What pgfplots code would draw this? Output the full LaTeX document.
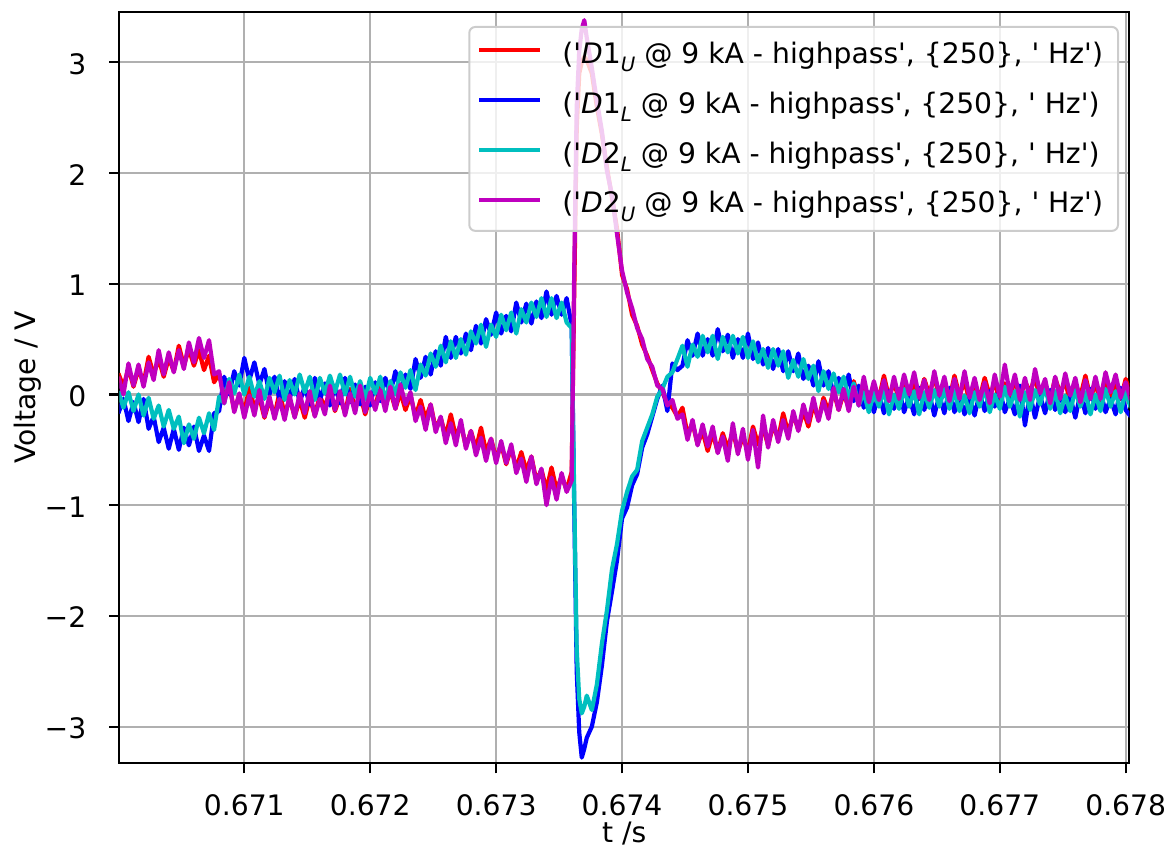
\documentclass[border=0pt]{standalone}
\usepackage{fontspec}
\setmainfont{DejaVu Sans}
\usepackage{pgfplots}
\usepackage{pgfplotstable}
\pgfplotsset{compat=1.18}

\definecolor{mplred}{HTML}{FF0000}
\definecolor{mplblue}{HTML}{0000FF}
\definecolor{mplcyan}{HTML}{00BFBF}
\definecolor{mplmagenta}{HTML}{BF00BF}
\definecolor{gridgray}{HTML}{B0B0B0}
\definecolor{framegray}{HTML}{CCCCCC}

\newcommand{\lbl}{\fontsize{14.1}{16.9}\selectfont}
% legend text of one detector channel: #1 = detector number, #2 = U/L
\newcommand{\sig}[2]{(\textquotesingle\textit{D}#1\raisebox{-0.3em}{\fontsize{9.9}{10}\selectfont\textit{#2}} @ 9 kA - highpass\textquotesingle, \{250\}, \textquotesingle\ Hz\textquotesingle)\hspace{3.5pt}}

% t in s; D1U, D1L, D2L, D2U in V (highpass 250 Hz)
\pgfplotstableread{
t r b c m
0.67000 0.19 -0.17 0.03 0.16
0.67004 0.07 -0.04 -0.12 0.00
0.67008 0.24 -0.24 0.02 0.28
0.67012 0.07 -0.07 -0.15 0.08
0.67016 0.23 -0.25 0.00 0.27
0.67020 0.10 -0.04 -0.19 0.07
0.67024 0.34 -0.31 -0.03 0.29
0.67028 0.18 -0.20 -0.22 0.13
0.67032 0.32 -0.43 -0.10 0.40
0.67036 0.16 -0.30 -0.29 0.18
0.67040 0.33 -0.49 -0.14 0.38
0.67044 0.21 -0.31 -0.31 0.20
0.67048 0.44 -0.50 -0.20 0.40
0.67052 0.26 -0.30 -0.44 0.23
0.67056 0.41 -0.46 -0.27 0.47
0.67060 0.26 -0.29 -0.40 0.29
0.67064 0.40 -0.51 -0.21 0.51
0.67068 0.22 -0.37 -0.35 0.33
0.67072 0.35 -0.51 -0.17 0.49
0.67076 0.11 -0.17 -0.32 0.18
0.67080 0.19 -0.15 -0.02 0.21
0.67084 -0.03 0.16 -0.08 -0.08
0.67088 0.08 0.00 0.14 0.11
0.67092 -0.14 0.21 0.01 -0.16
0.67096 -0.01 0.08 0.18 0.01
0.67100 -0.16 0.33 0.00 -0.21
0.67104 0.06 0.13 0.16 -0.01
0.67108 -0.12 0.29 -0.02 -0.19
0.67112 -0.03 0.09 0.12 0.04
0.67116 -0.21 0.23 -0.04 -0.20
0.67120 -0.05 0.00 0.15 -0.02
0.67124 -0.19 0.16 0.02 -0.22
0.67128 0.02 -0.05 0.17 -0.04
0.67132 -0.18 0.12 -0.05 -0.23
0.67136 -0.04 -0.04 0.13 -0.01
0.67140 -0.20 0.14 0.00 -0.21
0.67144 -0.05 -0.07 0.18 0.01
0.67148 -0.21 0.07 0.02 -0.17
0.67152 -0.03 -0.09 0.16 0.03
0.67156 -0.19 0.15 -0.05 -0.20
0.67160 -0.01 -0.05 0.15 -0.04
0.67164 -0.12 0.10 0.01 -0.18
0.67168 0.04 -0.10 0.17 0.08
0.67172 -0.15 0.08 0.02 -0.14
0.67176 -0.02 -0.08 0.18 0.03
0.67180 -0.17 0.15 0.00 -0.19
0.67184 0.05 -0.07 0.16 0.01
0.67188 -0.13 0.09 -0.02 -0.17
0.67192 0.00 -0.09 0.12 0.08
0.67196 -0.18 0.07 -0.04 -0.16
0.67200 -0.02 -0.10 0.15 0.02
0.67204 -0.12 0.11 0.01 -0.14
0.67208 0.09 -0.06 0.16 0.04
0.67212 -0.11 0.15 -0.06 -0.15
0.67216 0.03 0.01 0.12 0.07
0.67220 -0.13 0.21 0.00 -0.13
0.67224 0.02 0.02 0.20 0.09
0.67228 -0.14 0.18 0.06 -0.09
0.67232 -0.01 0.05 0.22 0.02
0.67236 -0.20 0.32 0.04 -0.24
0.67240 -0.05 0.15 0.27 -0.11
0.67244 -0.22 0.34 0.17 -0.32
0.67248 -0.09 0.18 0.37 -0.09
0.67252 -0.31 0.39 0.25 -0.34
0.67256 -0.21 0.26 0.44 -0.20
0.67260 -0.38 0.52 0.29 -0.44
0.67264 -0.18 0.33 0.48 -0.26
0.67268 -0.38 0.52 0.33 -0.46
0.67272 -0.27 0.37 0.50 -0.23
0.67276 -0.47 0.55 0.36 -0.49
0.67280 -0.33 0.40 0.57 -0.33
0.67284 -0.49 0.62 0.46 -0.55
0.67288 -0.30 0.46 0.63 -0.39
0.67292 -0.52 0.68 0.43 -0.60
0.67296 -0.40 0.54 0.63 -0.40
0.67300 -0.58 0.74 0.52 -0.62
0.67304 -0.45 0.55 0.72 -0.42
0.67308 -0.63 0.71 0.58 -0.62
0.67312 -0.48 0.57 0.74 -0.45
0.67316 -0.67 0.83 0.55 -0.71
0.67320 -0.52 0.65 0.77 -0.58
0.67324 -0.69 0.82 0.65 -0.79
0.67328 -0.56 0.64 0.83 -0.56
0.67332 -0.78 0.84 0.70 -0.81
0.67336 -0.68 0.69 0.87 -0.67
0.67340 -0.86 0.93 0.70 -1.00
0.67344 -0.66 0.72 0.87 -0.75
0.67348 -0.86 0.89 0.69 -0.95
0.67352 -0.74 0.72 0.83 -0.71
0.67356 -0.86 0.87 0.65 -0.88
0.67360 -0.70 0.62 0.60 -0.78
0.67362 0.90 -1.00 -0.90 1.10
0.67364 2.40 -2.50 -2.30 2.60
0.67366 2.90 -3.05 -2.75 3.10
0.67368 3.00 -3.28 -2.88 3.30
0.67370 3.05 -3.20 -2.82 3.38
0.67372 3.02 -3.10 -2.72 3.22
0.67376 2.90 -3.00 -2.85 2.95
0.67380 2.60 -2.78 -2.62 2.65
0.67384 2.35 -2.45 -2.25 2.38
0.67388 2.05 -2.05 -1.95 2.02
0.67392 1.78 -1.78 -1.58 1.80
0.67396 1.50 -1.50 -1.35 1.45
0.67400 1.08 -1.12 -1.05 1.12
0.67404 0.95 -1.02 -0.88 0.92
0.67408 0.72 -0.82 -0.74 0.78
0.67412 0.62 -0.72 -0.68 0.60
0.67416 0.45 -0.48 -0.42 0.50
0.67420 0.35 -0.36 -0.30 0.32
0.67424 0.22 -0.20 -0.18 0.25
0.67428 0.10 -0.04 -0.02 0.08
0.67432 0.02 0.08 0.05 0.05
0.67436 -0.08 -0.15 0.16 -0.10
0.67440 -0.12 0.28 0.20 -0.05
0.67444 -0.20 0.22 0.32 -0.22
0.67448 -0.12 0.26 0.44 -0.18
0.67452 -0.36 0.49 0.25 -0.41
0.67456 -0.26 0.35 0.45 -0.23
0.67460 -0.45 0.55 0.34 -0.46
0.67464 -0.33 0.35 0.53 -0.27
0.67468 -0.51 0.50 0.38 -0.47
0.67472 -0.35 0.35 0.53 -0.29
0.67476 -0.52 0.59 0.32 -0.53
0.67480 -0.35 0.39 0.52 -0.38
0.67484 -0.49 0.54 0.38 -0.60
0.67488 -0.33 0.33 0.53 -0.26
0.67492 -0.52 0.50 0.37 -0.54
0.67496 -0.38 0.33 0.52 -0.31
0.67500 -0.52 0.55 0.33 -0.59
0.67504 -0.29 0.32 0.48 -0.32
0.67508 -0.45 0.47 0.29 -0.66
0.67512 -0.30 0.27 0.41 -0.19
0.67516 -0.46 0.42 0.24 -0.48
0.67520 -0.28 0.23 0.41 -0.23
0.67524 -0.40 0.41 0.26 -0.43
0.67528 -0.17 0.21 0.39 -0.23
0.67532 -0.35 0.39 0.15 -0.40
0.67536 -0.18 0.21 0.31 -0.15
0.67540 -0.32 0.37 0.16 -0.33
0.67544 -0.15 0.14 0.32 -0.09
0.67548 -0.29 0.26 0.14 -0.25
0.67552 -0.09 0.08 0.26 -0.03
0.67556 -0.23 0.30 0.03 -0.24
0.67560 -0.03 0.08 0.21 -0.06
0.67564 -0.15 0.21 0.05 -0.22
0.67568 0.03 -0.01 0.19 0.06
0.67572 -0.14 0.15 0.02 -0.14
0.67576 0.01 -0.03 0.16 0.05
0.67580 -0.12 0.18 -0.04 -0.15
0.67584 0.12 -0.06 0.10 0.07
0.67588 -0.05 0.08 -0.10 -0.10
0.67592 0.09 -0.12 0.02 0.16
0.67596 -0.08 0.02 -0.16 -0.07
0.67600 0.09 -0.16 0.02 0.12
0.67604 -0.04 0.01 -0.11 -0.05
0.67608 0.17 -0.17 0.04 0.13
0.67612 -0.03 0.03 -0.18 -0.06
0.67616 0.11 -0.13 0.00 0.16
0.67620 -0.05 0.05 -0.13 -0.04
0.67624 0.10 -0.16 0.05 0.18
0.67628 -0.06 -0.02 -0.11 0.00
0.67632 0.12 -0.18 0.03 0.20
0.67636 -0.04 0.06 -0.18 -0.03
0.67640 0.14 -0.14 0.02 0.13
0.67644 0.00 0.01 -0.12 -0.05
0.67648 0.16 -0.19 0.04 0.21
0.67652 -0.03 -0.01 -0.11 -0.01
0.67656 0.10 -0.17 0.05 0.16
0.67660 -0.05 0.06 -0.13 -0.06
0.67664 0.17 -0.16 0.03 0.14
0.67668 -0.01 0.00 -0.15 -0.04
0.67672 0.12 -0.18 -0.01 0.21
0.67676 -0.06 -0.02 -0.17 -0.03
0.67680 0.10 -0.19 0.02 0.15
0.67684 -0.04 0.01 -0.11 -0.05
0.67688 0.15 -0.15 0.06 0.11
0.67692 -0.01 0.03 -0.16 -0.08
0.67696 0.11 -0.11 0.00 0.18
0.67700 -0.07 0.05 -0.13 -0.02
0.67704 0.10 -0.16 0.07 0.27
0.67708 -0.04 -0.04 -0.11 0.00
0.67712 0.14 -0.18 0.03 0.18
0.67716 -0.04 0.08 -0.20 -0.05
0.67720 0.12 -0.28 0.02 0.15
0.67724 0.02 0.01 -0.14 -0.05
0.67728 0.16 -0.21 0.04 0.23
0.67732 -0.05 -0.01 -0.09 0.01
0.67736 0.08 -0.17 0.07 0.14
0.67740 -0.05 0.04 -0.13 -0.08
0.67744 0.15 -0.14 0.03 0.16
0.67748 0.01 0.00 -0.17 -0.04
0.67752 0.12 -0.16 -0.01 0.19
0.67756 -0.08 -0.02 -0.15 -0.01
0.67760 0.10 -0.21 0.04 0.15
0.67764 -0.02 0.01 -0.11 -0.07
0.67768 0.17 -0.17 0.02 0.13
0.67772 -0.03 0.05 -0.18 -0.04
0.67776 0.09 -0.13 0.00 0.16
0.67780 -0.05 0.03 -0.15 -0.04
0.67784 0.12 -0.16 0.05 0.20
0.67788 -0.06 -0.04 -0.11 0.02
0.67792 0.10 -0.18 0.03 0.18
0.67796 -0.04 0.06 -0.16 -0.03
0.67800 0.14 -0.14 0.02 0.11
0.67804 0.00 -0.20 -0.12 -0.05
}\pulses

\begin{document}
\begin{tikzpicture}
\path[use as bounding box] (-59.65pt,-42.85pt) rectangle (524.35pt,381.65pt);
\begin{axis}[
  at={(0pt,0pt)}, anchor=south west,
  scale only axis, width=505pt, height=375.8pt,
  xmin=0.6700072, xmax=0.6780286,
  ymin=-3.331, ymax=3.457,
  scaled x ticks=false, scaled y ticks=false,
  xtick={0.671,0.672,0.673,0.674,0.675,0.676,0.677,0.678},
  xticklabels={0.671,0.672,0.673,0.674,0.675,0.676,0.677,0.678},
  ytick={-3,-2,-1,0,1,2,3},
  yticklabels={−3,−2,−1,0,1,2,3},
  tick pos=left, tick align=outside,
  major tick length=5pt,
  every tick/.style={black, line width=1.1pt},
  axis line style={line width=1.1pt},
  grid=major,
  major grid style={gridgray, line width=1.1pt},
  tick label style={font=\lbl},
  xticklabel style={anchor=base, inner sep=0pt, yshift=-20.9pt},
  yticklabel style={anchor=east, inner sep=0pt, xshift=-11.3pt, yshift=-0.8pt},
  xlabel={t /s}, ylabel={Voltage / V},
  every axis x label/.style={at={(axis description cs:0.5,0)}, anchor=base, yshift=-39.85pt, font=\lbl},
  every axis y label/.style={at={(axis description cs:-0.0909,0.5)}, rotate=90, anchor=center, font=\lbl},
  legend cell align=left,
  legend image code/.code={\draw[#1] (0pt,2pt) -- (30.5pt,2pt);},
  legend style={
    at={(axis description cs:0.9898,0.981)}, anchor=north east,
    font=\lbl, draw=framegray, line width=1pt, rounded corners=3pt,
    fill=white, fill opacity=0.8, draw opacity=1, text opacity=1,
    inner xsep=4pt, inner ysep=7.5pt,
    nodes={inner sep=0pt}, column sep=10pt, row sep=12.7pt,
  },
  every axis plot/.append style={no marks, line width=2.1pt, line join=round},
]
\addplot[mplred] table[x=t, y=r] {\pulses};
\addlegendentry{\sig{1}{U}}
\addplot[mplblue] table[x=t, y=b] {\pulses};
\addlegendentry{\sig{1}{L}}
\addplot[mplcyan] table[x=t, y=c] {\pulses};
\addlegendentry{\sig{2}{L}}
\addplot[mplmagenta] table[x=t, y=m] {\pulses};
\addlegendentry{\sig{2}{U}\rule[-14.5pt]{0pt}{1pt}}
\end{axis}
\end{tikzpicture}
\end{document}
